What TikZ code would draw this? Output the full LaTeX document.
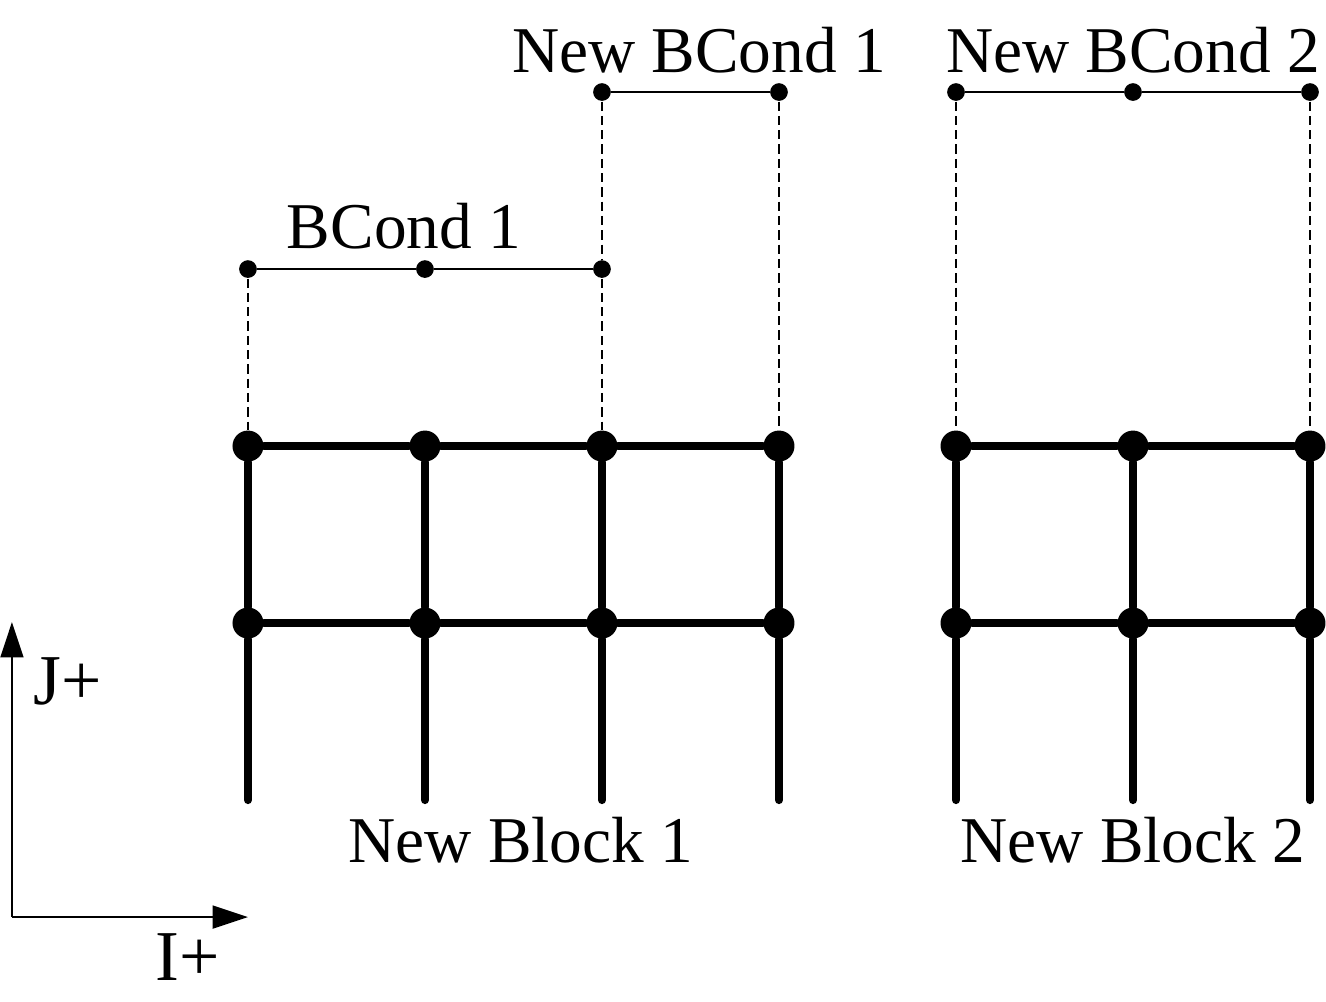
\documentclass[tikz,border=0pt]{standalone}
\usepackage{fontspec}
\setmainfont{Liberation Serif}
\usepackage{tikz}
\usetikzlibrary{arrows.meta}

\tikzset{
  bigdot/.style={circle,fill,inner sep=0pt,minimum size=0.35cm},
  smalldot/.style={circle,fill,inner sep=0pt,minimum size=0.2cm},
  gridline/.style={line width=2.6pt,line cap=round},
  bcline/.style={line width=0.45pt},
  guide/.style={line width=0.45pt,dash pattern=on 3pt off 1.6pt},
  lbl/.style={anchor=base,font=\fontsize{21}{25}\selectfont},
  axlbl/.style={anchor=base,font=\fontsize{23}{27}\selectfont}
}

\begin{document}
\begin{tikzpicture}
\useasboundingbox (-2.802,-2.271) rectangle (12.181,9.040);

% grid nodes, block 1 and block 2
\foreach \x/\c in {0/1,2/2,4/3,6/4,8/5,10/6,12/7}{
  \node (T\c) at (\x,4) [bigdot]{};
  \node (M\c) at (\x,2) [bigdot]{};
  \coordinate (E\c) at (\x,0);
}

% boundary condition nodes
\node (B1) at (0,6) [smalldot]{};
\node (B2) at (2,6) [smalldot]{};
\node (B3) at (4,6) [smalldot]{};
\node (N1) at (4,8) [smalldot]{};
\node (N2) at (6,8) [smalldot]{};
\node (P1) at (8,8) [smalldot]{};
\node (P2) at (10,8) [smalldot]{};
\node (P3) at (12,8) [smalldot]{};

% labels
\node[lbl] (bc1) at (1.763,6.237) {BCond 1};
\node[lbl] (nbc1) at (5.096,8.226) {New BCond 1};
\node[lbl] (nbc2) at (10,8.226) {New BCond 2};
\node[lbl] (nb1) at (3.085,-0.701) {New Block 1};
\node[lbl] (nb2) at (10,-0.701) {New Block 2};
\node[axlbl] (jp) at (-2.034,1.085) {J+};
\node[axlbl] (ip) at (-0.678,-2.034) {I+};

% grid lines
\draw[gridline] (T1)--(T2)--(T3)--(T4);
\draw[gridline] (M1)--(M2)--(M3)--(M4);
\draw[gridline] (T5)--(T6)--(T7);
\draw[gridline] (M5)--(M6)--(M7);
\foreach \c in {1,...,7}{
  \draw[gridline] (T\c)--(M\c);
  \draw[gridline] (M\c)--(E\c);
}

% boundary conditions
\draw[bcline] (B1)--(B2)--(B3);
\draw[bcline] (N1)--(N2);
\draw[bcline] (P1)--(P2)--(P3);
\draw[guide] (B1)--(T1);
\draw[guide] (B3)--(T3);
\draw[guide] (N1)--(B3);
\draw[guide] (N2)--(T4);
\draw[guide] (P1)--(T5);
\draw[guide] (P3)--(T7);

% axes
\coordinate (O) at (-2.667,-1.322);
\coordinate (Jend) at (-2.667,2.011);
\coordinate (Iend) at (0,-1.322);
\draw[line width=0.6pt,-{Triangle[length=0.40cm,width=0.26cm]}] (O)--(Jend);
\draw[line width=0.6pt,-{Triangle[length=0.40cm,width=0.26cm]}] (O)--(Iend);
\end{tikzpicture}
\end{document}
